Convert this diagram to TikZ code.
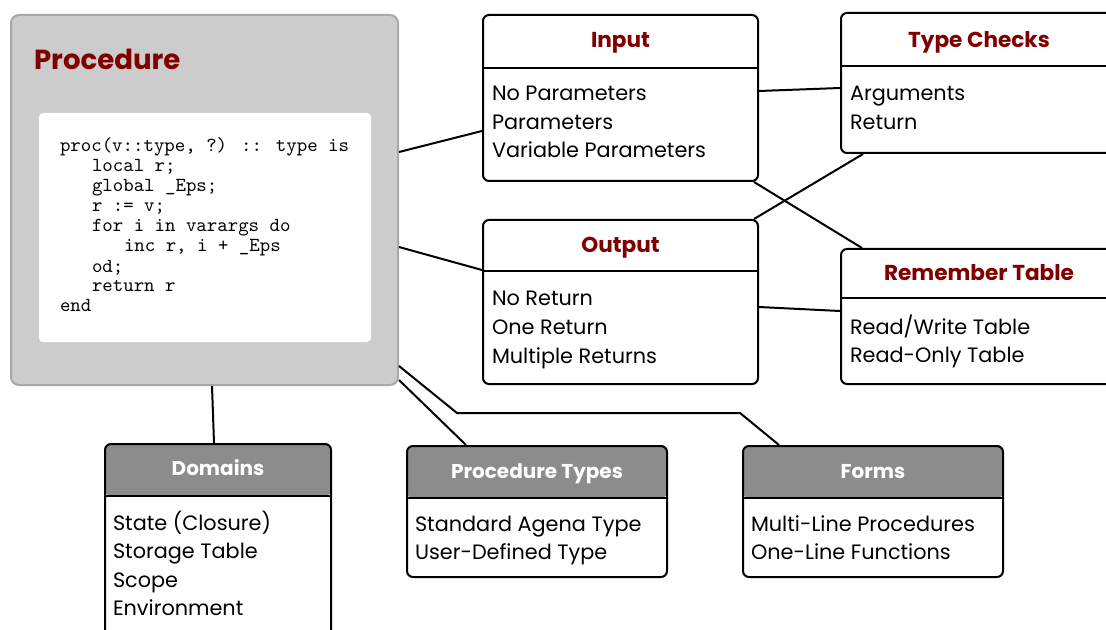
\documentclass[tikz,border=0pt]{standalone}
\usepackage{fontspec}
\setmainfont{Poppins}
\usepackage{tikz}
\usetikzlibrary{positioning}
\definecolor{procred}{HTML}{800000}
\definecolor{procgrey}{HTML}{CCCCCC}
\definecolor{procrim}{HTML}{A8A8A8}
\definecolor{headgrey}{HTML}{8C8C8C}

\begin{document}
\begin{tikzpicture}[x=0.5pt,y=-0.5pt,line width=1pt,
  box/.style={draw,line width=1pt,rounded corners=3pt,anchor=north west,inner sep=0pt,fill=white},
  plainbox/.style={box,path picture={\draw[line width=1pt] ([yshift=-#1]path picture bounding box.north west) -- ([yshift=-#1]path picture bounding box.north east);}},
  greybox/.style={box,path picture={\fill[headgrey] (path picture bounding box.north west) rectangle ([yshift=-#1]path picture bounding box.north east);
    \draw[line width=1pt] ([yshift=-#1]path picture bounding box.north west) -- ([yshift=-#1]path picture bounding box.north east);}},
  title/.style={anchor=base,font=\fontsize{10.8}{13}\selectfont\bfseries,text=procred},
  wtitle/.style={anchor=base,font=\fontsize{10}{12}\selectfont\bfseries,text=white},
  item/.style={anchor=base west,inner sep=0pt,font=\fontsize{10.4}{13}\selectfont},
  codeline/.style={anchor=base west,inner sep=0pt,font=\fontsize{9.95}{10}\selectfont\ttfamily}]
\useasboundingbox (0,0) rectangle (1106,630);
\clip (0,0) rectangle (1106,630);

% procedure
\node[draw=procrim,fill=procgrey,rounded corners=4pt,anchor=north west,inner sep=0pt,
  minimum width=193.5pt,minimum height=185pt] (proc) at (10,14) {};
\node[anchor=base west,inner sep=0pt,font=\fontsize{13.8}{17}\selectfont\bfseries,text=procred] (proctitle) at (33,70) {Procedure};
\node[fill=white,rounded corners=2pt,anchor=north west,inner sep=0pt,
  minimum width=166pt,minimum height=114.5pt] (code) at (38,112) {};
\foreach \ind/\txt [count=\i] in {0/{proc(v::type, ?) :: type is},1/{local r;},1/{global \_Eps;},1/{r := v;},
    1/{for i in varargs do},2/{inc r, i + \_Eps},1/{od;},1/{return r},0/{end}}
  \node[codeline] (code\i) at ([xshift=10.5pt+16pt*\ind,yshift=-10pt-10pt*\i]code.north west) {\txt};

% boxes
\node[plainbox=26.5pt,minimum width=137.5pt,minimum height=83pt] (input) at (482,14) {};
\node[plainbox=26.5pt,minimum width=138pt,minimum height=70pt] (checks) at (840,12) {};
\node[plainbox=25.5pt,minimum width=137.5pt,minimum height=82pt] (output) at (482,219) {};
\node[plainbox=24.5pt,minimum width=138pt,minimum height=67.5pt] (remember) at (840,248) {};
\node[greybox=26pt,minimum width=113pt,minimum height=100pt] (domains) at (104,443) {};
\node[greybox=26pt,minimum width=130pt,minimum height=65.5pt] (types) at (406,445) {};
\node[greybox=26pt,minimum width=130pt,minimum height=65.5pt] (forms) at (742,445) {};

\node[title] (inputT) at ([yshift=-17pt]input.north) {Input};
\node[title] (checksT) at ([yshift=-18pt]checks.north) {Type Checks};
\node[title] (outputT) at ([yshift=-17pt]output.north) {Output};
\node[title] (rememberT) at ([yshift=-16.5pt]remember.north) {Remember Table};
\node[wtitle] (domainsT) at ([yshift=-16pt]domains.north) {Domains};
\node[wtitle] (typesT) at ([yshift=-16.5pt]types.north) {Procedure Types};
\node[wtitle] (formsT) at ([yshift=-16.5pt]forms.north) {Forms};

\foreach \t [count=\i] in {No Parameters,Parameters,Variable Parameters}
  \node[item] (input\i) at ([xshift=4.5pt,yshift=-29.25pt-14.25pt*\i]input.north west) {\t};
\foreach \t [count=\i] in {Arguments,Return}
  \node[item] (checks\i) at ([xshift=4.5pt,yshift=-30.25pt-14.25pt*\i]checks.north west) {\t};
\foreach \t [count=\i] in {No Return,One Return,Multiple Returns}
  \node[item] (output\i) at ([xshift=4.5pt,yshift=-29.25pt-14.25pt*\i]output.north west) {\t};
\foreach \t [count=\i] in {{Read/Write Table},{Read-Only Table}}
  \node[item] (remember\i) at ([xshift=4.5pt,yshift=-28.75pt-14.25pt*\i]remember.north west) {\t};
\foreach \t [count=\i] in {State (Closure),Storage Table,Scope,Environment}
  \node[item] (domains\i) at ([xshift=4pt,yshift=-29.25pt-14.25pt*\i]domains.north west) {\t};
\foreach \t [count=\i] in {Standard Agena Type,User-Defined Type}
  \node[item] (types\i) at ([xshift=4pt,yshift=-28.75pt-14.25pt*\i]types.north west) {\t};
\foreach \t [count=\i] in {Multi-Line Procedures,One-Line Functions}
  \node[item] (forms\i) at ([xshift=4pt,yshift=-28.75pt-14.25pt*\i]forms.north west) {\t};

% links
\draw ([yshift=-69pt]proc.north east) -- ([yshift=-58.5pt]input.north west);
\draw ([yshift=-116.5pt]proc.north east) -- ([yshift=-25.5pt]output.north west);
\draw ([yshift=-38.5pt]input.north east) -- ([yshift=-38pt]checks.north west);
\draw ([xshift=-2.5pt]input.south east) -- ([xshift=11pt]remember.north west);
\draw ([xshift=-2.5pt]output.north east) -- ([xshift=11.5pt]checks.south west);
\draw ([yshift=-44pt]output.north east) -- ([yshift=-31.5pt]remember.north west);
\draw ([xshift=101pt]proc.south west) -- ([xshift=55pt]domains.north west);
\draw ([yshift=3pt]proc.south east) -- ([xshift=30pt]types.north west);
\draw ([yshift=10pt]proc.south east) -- (457,413) -- (740,413) -- ([xshift=18.5pt]forms.north west);
\end{tikzpicture}
\end{document}
